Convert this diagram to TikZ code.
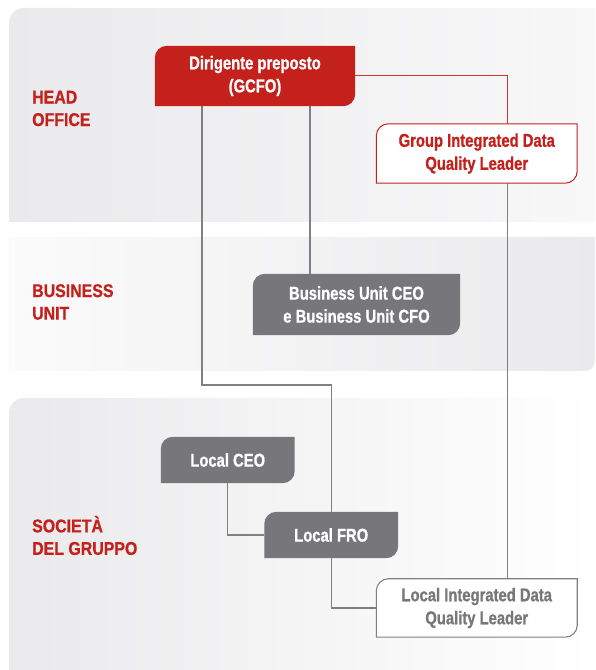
\documentclass[tikz,border=0pt]{standalone}
\usepackage{fontspec}
\setsansfont{Liberation Sans}[FakeStretch=0.8,BoldFeatures={FakeBold=0.8}]
\newfontfamily\tierfont{Liberation Sans}[FakeStretch=0.86,BoldFeatures={FakeBold=0.8}]
\usetikzlibrary{positioning,calc}
\definecolor{headred}{HTML}{C4201C}
\definecolor{boxgray}{HTML}{77777B}
\definecolor{linegray}{HTML}{808083}
\definecolor{bandgray}{HTML}{EAEAEC}
\definecolor{bandlight}{HTML}{F8F8F9}
\pgfdeclarelayer{bands}
\pgfdeclarelayer{boxes}
\pgfsetlayers{bands,boxes,main}
% box with rounded top-left and bottom-right corners
\newcommand\roleshape[2]{%
  \path[#2] (#1.south west) -- ([yshift=-12pt]#1.north west)
    arc[start angle=180,end angle=90,radius=12pt] -- (#1.north east)
    -- ([yshift=12pt]#1.south east)
    arc[start angle=0,end angle=-90,radius=12pt] -- cycle;}

\begin{document}
\begin{tikzpicture}[x=1pt,y=1pt,
  font=\sffamily\bfseries\fontsize{18.5}{23}\selectfont,
  role/.style={align=center,inner sep=0pt},
  tierlabel/.style={anchor=west,align=left,inner sep=0pt,text=headred,
    font=\tierfont\bfseries\fontsize{18.5}{22.5}\selectfont},
  link/.style={draw=linegray,line width=1.1pt},
  redlink/.style={draw=headred!90,line width=1pt}]
\useasboundingbox (0,0) rectangle (595,670);
% tiers
\begin{pgfonlayer}{bands}
\shade[left color=bandgray,right color=bandlight] (9,448) -- (9,647) arc[start angle=180,end angle=90,radius=15] -- (595,662) -- (595,448) -- cycle;
\shade[left color=bandlight!60!white,right color=bandgray] (9,433) -- (595,433) -- (595,309) arc[start angle=0,end angle=-90,radius=10] -- (9,299) -- cycle;
\shade[left color=bandgray,right color=white] (9,0) -- (9,257) arc[start angle=180,end angle=90,radius=15] -- (595,272) -- (595,0) -- cycle;
\end{pgfonlayer}

\node[tierlabel] (headLbl) at (32,561.5) {HEAD\\OFFICE};
\node[tierlabel] (buLbl) at (32,368) {BUSINESS\\UNIT};
\node[tierlabel] (groupLbl) at (32,134.5) {SOCIETÀ\\DEL GRUPPO};

\node[role,text=white,minimum width=200pt,minimum height=60pt] (gcfo) at (255,594) {Dirigente preposto\\(GCFO)};
\node[role,text=headred,minimum width=200.5pt,minimum height=59pt] (gidql) at (476.75,516.5) {Group Integrated Data\\Quality Leader};
\node[role,text=white,minimum width=207pt,minimum height=61pt] (bu) at (356.5,365.5) {Business Unit CEO\\e Business Unit CFO};
\node[role,text=white,minimum width=133.5pt,minimum height=46pt] (ceo) at (227.75,210) {Local CEO};
\node[role,text=white,minimum width=133.5pt,minimum height=46pt] (fro) at (331.25,135) {Local FRO};
\node[role,text=boxgray,minimum width=200.5pt,minimum height=58pt] (lidql) at (476.75,62) {Local Integrated Data\\Quality Leader};
\coordinate (bend) at (202,285);

\begin{pgfonlayer}{boxes}
\draw[link] (gcfo.south -| bend) -- (bend) -| (fro.north);
\draw[link] ([xshift=55pt]gcfo.south) -- ([xshift=55pt]gcfo.south |- bu.north);
\draw[redlink] (gcfo.east) -| ([xshift=31pt]gidql.north);
\draw[link] ([xshift=31pt]gidql.south) -- ([xshift=31pt]lidql.north);
\draw[link] (ceo.south) |- (fro.west);
\draw[link] (fro.south) |- (lidql.west);
\roleshape{gcfo}{fill=headred}
\roleshape{gidql}{fill=white,draw=headred,line width=1pt}
\roleshape{bu}{fill=boxgray}
\roleshape{ceo}{fill=boxgray}
\roleshape{fro}{fill=boxgray}
\roleshape{lidql}{fill=white,draw=linegray,line width=1.1pt}
\end{pgfonlayer}
\end{tikzpicture}
\end{document}
